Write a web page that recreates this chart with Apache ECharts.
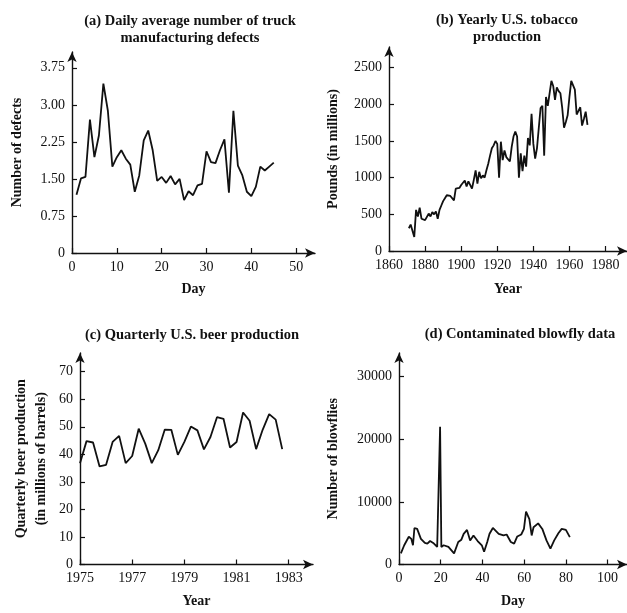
<!DOCTYPE html>
<html>
<head>
<meta charset="utf-8">
<script src="https://cdn.jsdelivr.net/npm/echarts@6/dist/echarts.min.js"></script>
<style>
html,body{margin:0;padding:0;background:#fff}
#main{width:627px;height:613px}
</style>
</head>
<body>
<div id="main"></div>
<script>
// (a) truck defects
var defectDays = [1,2,3,4,5,6,7,8,9,10,11,12,13,14,15,16,17,18,19,20,21,22,23,24,25,26,27,28,29,30,31,32,33,34,35,36,37,38,39,40,41,42,43,44,45];
var defectValues = [1.18,1.51,1.54,2.70,1.94,2.38,3.43,2.88,1.75,1.94,2.08,1.91,1.79,1.24,1.57,2.28,2.48,2.08,1.46,1.54,1.42,1.56,1.39,1.50,1.07,1.25,1.17,1.37,1.40,2.06,1.84,1.82,2.08,2.30,1.22,2.88,1.77,1.57,1.24,1.15,1.34,1.75,1.67,1.75,1.83];
var defectYTicks = [0,0.75,1.5,2.25,3,3.75];
var defectXTicks = [0,10,20,30,40,50];

// (b) tobacco, one value per year from 1871
var tobaccoFirstYear = 1871;
var tobaccoValues = [
  310,360,350,190,560,470,590,440,460,420,
  400,510,470,530,500,540,440,560,620,680,
  720,760,760,750,740,690,850,830,860,900,
  930,960,880,950,930,850,970,1100,920,1080,
  990,1030,1000,1100,1190,1300,1400,1440,1500,1460,
  1000,1490,1240,1370,1280,1300,1220,1420,1560,1630,
  1560,1000,1330,1090,1300,1150,1540,1440,1870,1460,
  1260,1400,1420,1950,1980,1300,2100,1980,1990,2320,
  2250,2060,2230,2180,2150,1950,1680,1760,1850,2100,
  2320,2340,2200,1860,1880,1960,1710,1800,1900,1720
];
var tobaccoYTicks = [0,500,1000,1500,2000,2500];
var tobaccoXTicks = [1860,1880,1900,1920,1940,1960,1980];

// (c) beer, quarterly from 1975 Q1
var beerFirstYear = 1975;
var beerValues = [36.8,44.8,44.3,35.6,36.2,44.5,46.7,36.8,39.4,49.3,43.9,36.8,41.5,49.0,48.9,39.8,44.5,50.1,48.7,41.8,46.3,53.5,52.9,42.5,44.5,55.2,52.2,41.9,48.9,54.6,52.6,41.9];
var beerYTicks = [0,10,20,30,40,50,60,70];
var beerXTicks = [1975,1977,1979,1981,1983];

// (d) blowflies
var flyDays = [0.9,2.5,4.7,5.9,6.7,7.4,8.7,10.5,12.4,13.6,14.9,16.4,18.3,19.2,19.7,20.3,21.4,23.7,26.4,28.4,29.9,31,32.6,34.1,35.7,37.7,39.7,40.8,42.3,43.4,45,47.8,50.1,51.6,53.6,55.2,56.7,58.6,59.9,60.9,62.5,63.6,64.5,66.7,68.7,70.7,72.6,74.4,76.4,78,80,81.9];
var flyValues = [1770,3070,4430,4100,3070,5830,5680,4100,3440,3330,3750,3440,2810,2550,22000,2800,3070,2810,1770,3590,3960,4900,5520,3850,4640,3750,3070,2030,3590,4900,5830,4900,4640,4790,3590,3330,4480,4790,5680,8440,7240,4640,5940,6560,5680,3850,2550,3850,5000,5680,5520,4380];
var flyYTicks = [0,10000,20000,30000];
var flyXTicks = [0,20,40,60,80,100];

var ink = '#111';
var serif = 'Liberation Serif';

function pairs(xs, ys) {
  var out = [];
  for (var i = 0; i < ys.length; i++) out.push([xs[i], ys[i]]);
  return out;
}
function seq(first, step, n) {
  var out = [];
  for (var i = 0; i < n; i++) out.push(first + i * step);
  return out;
}

function axis(idx, min, max, ticks, name, gap, fmt) {
  return {
    type: 'value', gridIndex: idx, min: min, max: max,
    axisLine: { show: true, onZero: false, symbol: ['none', 'arrow'], symbolSize: [7, 10], lineStyle: { color: ink, width: 1.4 } },
    axisTick: { show: true, inside: true, length: 5, customValues: ticks, lineStyle: { color: ink, width: 1.2 } },
    axisLabel: {
      customValues: ticks, color: ink, fontFamily: serif, fontSize: 14, margin: 7,
      formatter: fmt || function (v) { return String(v); }
    },
    splitLine: { show: false },
    name: name, nameLocation: 'middle', nameGap: gap, nameMoveOverlap: false,
    nameTextStyle: { color: ink, fontFamily: serif, fontSize: 14, fontWeight: 'bold', lineHeight: 20.5 }
  };
}

function title(text, x, y) {
  return {
    text: text, left: x, top: y, textAlign: 'center', padding: 0,
    textStyle: { color: ink, fontFamily: serif, fontSize: 14.5, fontWeight: 'bold', lineHeight: 17 }
  };
}

function line(idx, data) {
  return {
    type: 'line', xAxisIndex: idx, yAxisIndex: idx, data: data,
    showSymbol: false, symbol: 'none',
    lineStyle: { color: ink, width: 1.8 }
  };
}

var chart = echarts.init(document.getElementById('main'));
chart.setOption({
  animation: false,
  backgroundColor: '#fff',
  title: [
    title('(a) Daily average number of truck\nmanufacturing defects', 190, 13),
    title('(b) Yearly U.S. tobacco\nproduction', 507, 12),
    title('(c) Quarterly U.S. beer production', 192, 327),
    title('(d) Contaminated blowfly data', 520, 326)
  ],
  grid: [
    { left: 72, top: 52, width: 243, height: 201 },
    { left: 389, top: 47, width: 245, height: 204 },
    { left: 80, top: 353, width: 233, height: 215 },
    { left: 399, top: 353, width: 235, height: 215 }
  ],
  xAxis: [
    axis(0, 0, 54.2, defectXTicks, 'Day', 26),
    axis(1, 1860, 1991.9, tobaccoXTicks, 'Year', 28),
    axis(2, 1975, 1983.93, beerXTicks, 'Year', 27),
    axis(3, 0, 109.3, flyXTicks, 'Day', 27)
  ],
  yAxis: [
    axis(0, 0, 4.07, defectYTicks, 'Number of defects', 44, function (v) { return v === 0 ? '0' : v.toFixed(2); }),
    axis(1, 0, 2781, tobaccoYTicks, 'Pounds (in millions)', 45),
    axis(2, 0, 76.8, beerYTicks, 'Quarterly beer production\n(in millions of barrels)', 28),
    axis(3, 0, 33770, flyYTicks, 'Number of blowflies', 55)
  ],
  series: [
    line(0, pairs(defectDays, defectValues)),
    line(1, pairs(seq(tobaccoFirstYear, 1, tobaccoValues.length), tobaccoValues)),
    line(2, pairs(seq(beerFirstYear, 0.25, beerValues.length), beerValues)),
    line(3, pairs(flyDays, flyValues))
  ]
});
</script>
</body>
</html>
